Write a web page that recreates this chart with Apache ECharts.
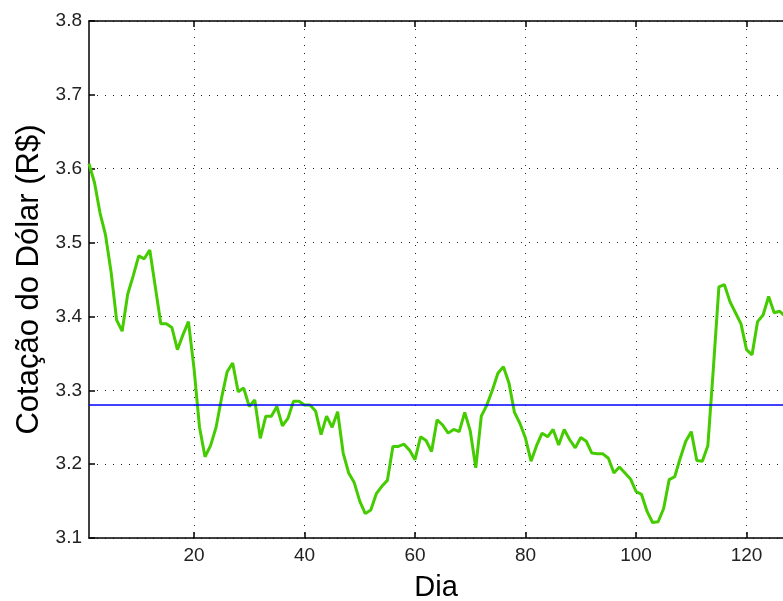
<!DOCTYPE html>
<html>
<head>
<meta charset="utf-8">
<script src="https://cdn.jsdelivr.net/npm/echarts@6/dist/echarts.min.js"></script>
<style>html,body{margin:0;padding:0;background:#fff;}#c{width:783px;height:601px;}</style>
</head>
<body>
<div id="c"></div>
<script>
// Day numbers (x) and dollar quotes (y)
const days = [];
for (let d = 1; d <= 127; d++) days.push(d);
const quotes = [
  3.607, 3.581, 3.540, 3.510, 3.460, 3.395, 3.380, 3.430, 3.455, 3.482,
  3.478, 3.490, 3.440, 3.390, 3.390, 3.385, 3.355, 3.375, 3.393, 3.330,
  3.250, 3.210, 3.225, 3.250, 3.290, 3.325, 3.337, 3.298, 3.303, 3.278,
  3.287, 3.235, 3.265, 3.265, 3.278, 3.252, 3.262, 3.285, 3.285, 3.280,
  3.280, 3.272, 3.240, 3.265, 3.250, 3.271, 3.215, 3.188, 3.175, 3.150,
  3.133, 3.138, 3.160, 3.170, 3.178, 3.224, 3.224, 3.227, 3.219, 3.206,
  3.237, 3.232, 3.217, 3.260, 3.253, 3.242, 3.247, 3.244, 3.270, 3.245,
  3.195, 3.265, 3.280, 3.300, 3.323, 3.332, 3.310, 3.270, 3.255, 3.235,
  3.204, 3.225, 3.242, 3.237, 3.247, 3.226, 3.247, 3.233, 3.222, 3.236,
  3.231, 3.215, 3.214, 3.214, 3.208, 3.188, 3.196, 3.188, 3.180, 3.163,
  3.159, 3.136, 3.121, 3.122, 3.140, 3.179, 3.183, 3.208, 3.231, 3.244,
  3.205, 3.204, 3.225, 3.330, 3.440, 3.443, 3.420, 3.405, 3.390, 3.355,
  3.348, 3.393, 3.402, 3.427, 3.405, 3.407, 3.400
];
const meanQuote = 3.2835;
const xTicks = [20, 40, 60, 80, 100, 120];
const yMin = 3.1, yMax = 3.8, yStep = 0.1;

const seriesData = days.map((d, i) => [d, quotes[i]]);

const chart = echarts.init(document.getElementById('c'), null, {renderer: 'canvas'});
const font = 'Liberation Sans, Arial, Helvetica, sans-serif';
const gridLine = {show: true, lineStyle: {color: '#222', width: 1, type: [1, 7]}};
chart.setOption({
  backgroundColor: '#fff',
  animation: false,
  grid: {left: 89, right: 0, top: 21, bottom: 63, containLabel: false, outerBoundsMode: 'none'},
  xAxis: [{
    type: 'value', min: 1, max: 126.6, position: 'bottom',
    name: 'Dia', nameLocation: 'middle', nameGap: 35,
    nameTextStyle: {fontFamily: font, fontSize: 29, color: '#000'},
    axisLine: {show: true, onZero: false, lineStyle: {color: '#000', width: 1.5}},
    axisTick: {show: true, inside: true, length: 6, customValues: xTicks, lineStyle: {color: '#000', width: 1.5}},
    axisLabel: {show: true, customValues: xTicks, fontFamily: font, fontSize: 19, color: '#222', margin: 8},
    splitLine: gridLine
  }, {
    type: 'value', min: 1, max: 126.6, position: 'top',
    axisLine: {show: true, onZero: false, lineStyle: {color: '#000', width: 1.5}},
    axisTick: {show: true, inside: true, length: 6, customValues: xTicks, lineStyle: {color: '#000', width: 1.5}},
    axisLabel: {show: false},
    splitLine: {show: false}
  }],
  yAxis: [{
    type: 'value', min: yMin, max: yMax, interval: yStep,
    name: 'Cotação do Dólar (R$)', nameLocation: 'middle', nameGap: 43,
    nameTextStyle: {fontFamily: font, fontSize: 31, color: '#000'},
    axisLine: {show: true, onZero: false, lineStyle: {color: '#000', width: 1.5}},
    axisTick: {show: true, inside: true, length: 6, lineStyle: {color: '#000', width: 1.5}},
    axisLabel: {fontFamily: font, fontSize: 19, color: '#222', margin: 7,
      formatter: v => v.toFixed(1)},
    splitLine: gridLine
  }],
  series: [{
    type: 'line', data: seriesData, showSymbol: false, symbol: 'none',
    lineStyle: {color: '#44cc00', width: 3}, z: 3,
    markLine: {
      silent: true, symbol: ['none', 'none'], label: {show: false},
      lineStyle: {color: '#0000ff', width: 1.5, type: 'solid'},
      emphasis: {disabled: true},
      data: [{yAxis: meanQuote, lineStyle: {color: '#0000ff', width: 1.5, type: 'solid'}}]
    }
  }]
});
</script>
</body>
</html>
